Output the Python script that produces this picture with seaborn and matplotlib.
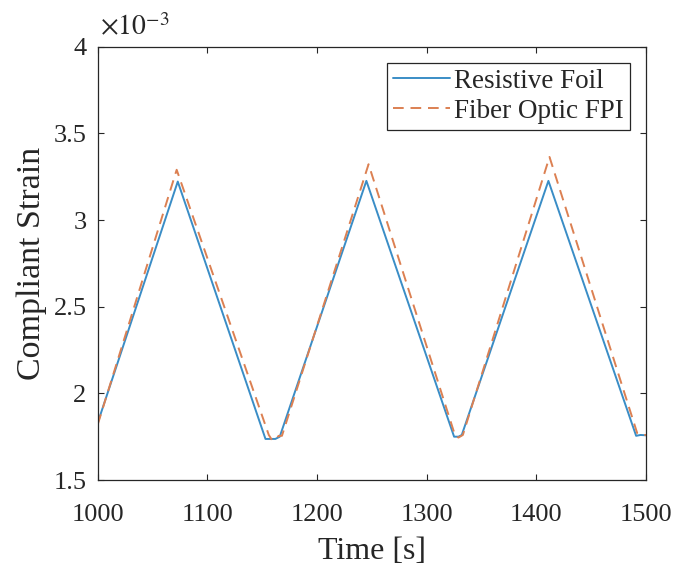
import numpy as np
import pandas as pd
import matplotlib
matplotlib.use("Agg")
import matplotlib.pyplot as plt
from matplotlib.ticker import FuncFormatter
import seaborn as sns

# Strain readings (in units of 1e-3) at the turning points of the load cycles
foil_time = [1000, 1073, 1153, 1158, 1162, 1166, 1245, 1325, 1329, 1332, 1411, 1491, 1495, 1500]
foil_strain_milli = [1.83, 3.222, 1.737, 1.737, 1.737, 1.75, 3.226, 1.75, 1.75, 1.76, 3.226, 1.755, 1.76, 1.758]

fpi_time = [1000, 1072, 1156, 1159, 1162, 1165, 1168, 1247, 1326, 1329, 1333, 1412, 1492, 1496, 1500]
fpi_strain_milli = [1.82, 3.29, 1.76, 1.73, 1.735, 1.755, 1.755, 3.322, 1.755, 1.745, 1.76, 3.364, 1.77, 1.76, 1.76]

series_names = ["Resistive Foil", "Fiber Optic FPI"]
x_ticks = [1000, 1100, 1200, 1300, 1400, 1500]
y_ticks_milli = [1.5, 2, 2.5, 3, 3.5, 4]

foil = pd.DataFrame({"Time": foil_time, "Strain": np.array(foil_strain_milli) * 1e-3})
fpi = pd.DataFrame({"Time": fpi_time, "Strain": np.array(fpi_strain_milli) * 1e-3})

sns.set_theme(style="white")
plt.rcParams["font.family"] = ["Liberation Serif", "DejaVu Serif"]
plt.rcParams["mathtext.fontset"] = "stix"

fig = plt.figure(figsize=(6.8, 5.67), dpi=100)
ax = fig.add_axes([0.1437, 0.1534, 0.8063, 0.7642])

blue = "#3a8dc6"
orange = "#dc8052"

sns.lineplot(data=foil, x="Time", y="Strain", ax=ax, color=blue, lw=1.4,
             estimator=None, sort=False, label=series_names[0])
sns.lineplot(data=fpi, x="Time", y="Strain", ax=ax, color=orange, lw=1.4,
             linestyle=(0, (5.5, 3.5)), estimator=None, sort=False, label=series_names[1])

ax.set_xlim(1000, 1500)
ax.set_ylim(1.5e-3, 4e-3)
ax.set_xticks(x_ticks)
ax.set_yticks([v * 1e-3 for v in y_ticks_milli])
ax.yaxis.set_major_formatter(FuncFormatter(lambda v, p: f"{v * 1e3:g}"))

ax.set_xlabel("Time [s]", fontsize=23, labelpad=8)
ax.set_ylabel("Compliant Strain", fontsize=24.5, labelpad=5)

for s in ax.spines.values():
    s.set_color("#262626")
    s.set_linewidth(0.9)

ax.tick_params(axis="both", which="major", direction="in", length=4, width=0.8,
               color="#262626", labelsize=19, labelcolor="#262626",
               top=True, right=True, bottom=True, left=True)
ax.tick_params(axis="x", pad=17)
ax.tick_params(axis="y", pad=8)

ax.text(0.004, 1.012, r"$\times10^{-3}$", transform=ax.transAxes,
        fontsize=20, color="#262626", ha="left", va="bottom")

leg = ax.legend(loc="upper right", bbox_to_anchor=(1, 1), borderaxespad=0.6,
                fontsize=19.5, frameon=True, fancybox=False, framealpha=1,
                handlelength=2.1, handletextpad=0.15, borderpad=0.22,
                labelspacing=0.18)
leg.get_frame().set_edgecolor("#262626")
leg.get_frame().set_linewidth(0.9)

fig.savefig("out.png", dpi=100)
